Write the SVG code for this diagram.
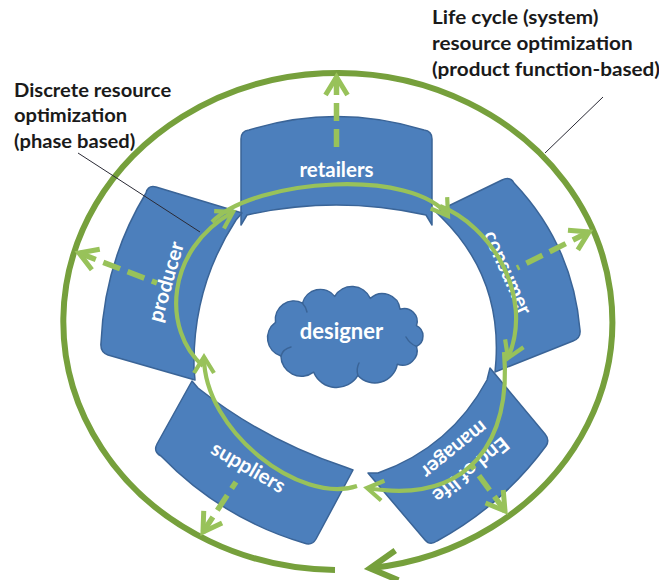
<svg xmlns="http://www.w3.org/2000/svg" width="659" height="580" viewBox="0 0 659 580">
  <defs>
    <style>
      .blk { fill: #4C7FBC; stroke: #3A6497; stroke-width: 1.5; stroke-linejoin: round; }
      .lbl { font-family: Lato, "Open Sans", "Liberation Sans", sans-serif; font-weight: 700; font-size: 20.5px; fill: #FFFFFF; text-anchor: middle; }
      .big { font-size: 22px; }
      .note { font-family: Lato, "Open Sans", "Liberation Sans", sans-serif; font-weight: 700; font-size: 18.5px; fill: #1A1A1A; }
      .flow { fill: none; stroke: #98C25A; stroke-width: 4.2; marker-end: url(#ah-flow); }
      .out { fill: none; stroke: #98C25A; stroke-width: 5.5; stroke-dasharray: 18 8; marker-start: url(#ah-out); }
      .ring { fill: none; stroke: #76A03C; stroke-width: 6; marker-end: url(#ah-ring); }
      .lead { fill: none; stroke: #2A2A35; stroke-width: 1; }
      .cloud-line { fill: none; stroke: #3A6497; stroke-width: 1.5; stroke-linecap: round; }
    </style>
    <marker id="ah-flow" markerUnits="userSpaceOnUse" orient="auto" viewBox="-30 -30 60 60" markerWidth="60" markerHeight="60" refX="0" refY="0" overflow="visible">
      <path d="M-16,-10 L0,0 L-16,10" fill="none" stroke="#98C25A" stroke-width="4.2"/>
    </marker>
    <marker id="ah-out" markerUnits="userSpaceOnUse" orient="auto-start-reverse" viewBox="-30 -30 60 60" markerWidth="60" markerHeight="60" refX="0" refY="0" overflow="visible">
      <path d="M-18,-11 L0,0 L-18,11" fill="none" stroke="#98C25A" stroke-width="5"/>
    </marker>
    <marker id="ah-ring" markerUnits="userSpaceOnUse" orient="auto" viewBox="-40 -40 80 80" markerWidth="80" markerHeight="80" refX="0" refY="0" overflow="visible">
      <path d="M-27,-15 L0,0 L-27,15" fill="none" stroke="#76A03C" stroke-width="6"/>
    </marker>
  </defs>

  <rect width="659" height="580" fill="#FFFFFF"/>

  <!-- life-cycle phases -->
  <g id="retailers">
    <path class="blk" d="M241,225 L241,139 Q241,131 249,130 Q336,103 424,130 Q432,131 432,139 L432,225 L426,215 Q336,195 247,215 Z"/>
    <text class="lbl" x="336.5" y="177">retailers</text>
  </g>
  <g id="consumer">
    <path class="blk" d="M436,212 L502,180 Q510,176 514,183 Q572.6,244.6 580,330 Q581,338 573,341 L495,372 L496,360 Q500.8,276.1 442,218 Z"/>
    <text class="lbl" transform="translate(507,273) rotate(66)" y="6">consumer</text>
  </g>
  <g id="end-of-life-manager">
    <path class="blk" d="M368,473 L425,540 Q430,546 437,541 Q502,505.6 546,446 Q550,440 545,434 L490,368 L487,380 Q450.6,447.4 378,473 Z"/>
    <g transform="translate(462,459) rotate(141)">
      <text class="lbl" y="-7">End of life</text>
      <text class="lbl" y="19">manager</text>
    </g>
  </g>
  <g id="suppliers">
    <path class="blk" d="M192,381 L157,444 Q153,452 161,456 Q221.2,518.4 304,543 Q312,546 316,539 L353,470 L345,467 Q263.9,440.1 198,388 Z"/>
    <text class="lbl" transform="translate(248,468) rotate(30)" y="6">suppliers</text>
  </g>
  <g id="producer">
    <path class="blk" d="M242,213 L156,187 Q148,185 146,193 Q104.3,261.8 101,343 Q100,352 108,355 L195,380 L194,368 Q192.5,286.9 236,220 Z"/>
    <text class="lbl" transform="translate(167,282) rotate(-74)" y="6">producer</text>
  </g>

  <!-- designer at the centre -->
  <g id="designer">
    <path class="blk" d="M275.5,322.3 A18.5,18.5 0 0 1 302.5,303.2 A18.4,18.4 0 0 1 334.7,296.4 A20,20 0 0 1 370.3,298.4 A17.7,17.7 0 0 1 400,309.2 A13,13 0 0 1 416.5,325.6 A11.6,11.6 0 0 1 416.5,346.4 A14.7,14.7 0 0 1 397.3,364.3 A22.9,22.9 0 0 1 357.9,375.4 A24.8,24.8 0 0 1 313.7,372.2 A20.5,20.5 0 0 1 280.9,356 A19.1,19.1 0 0 1 275.5,322.3 Z"/>
    <path class="cloud-line" d="M280.9,356 Q283,349 291,347"/>
    <path class="cloud-line" d="M416.5,346.4 Q410,344 406,337"/>
    <path class="cloud-line" d="M357.9,375.4 Q356,369 359,363"/>
    <path class="cloud-line" d="M302.5,303.2 Q306,307 307,312"/>
    <text class="lbl big" x="341.5" y="338.5">designer</text>
  </g>

  <!-- connectors -->
  <g id="connectors">
    <!-- outer life-cycle loop -->
    <path class="ring" d="M335,570 A274.5,248.5 0 1 1 370,568.3"/>

    <!-- phase-to-phase flow -->
    <path class="flow" d="M203,366 C162,330 165,250 233,212"/>
    <path class="flow" d="M212,222 C255,178 415,168 448,216"/>
    <path class="flow" d="M440,206 C490,225 535,295 508,358"/>
    <path class="flow" d="M504,352 C512,440 470,505 367,488"/>
    <path class="flow" d="M357,486 C300,505 204,431 204,357"/>

    <!-- outflows to the loop (drawn tip first) -->
    <path class="out" d="M336.5,77 L336.5,152"/>
    <path class="out" d="M589,232 L517,268"/>
    <path class="out" d="M79,253 L157,283"/>
    <path class="out" d="M203,532 L236,482"/>
    <path class="out" d="M505,511 L472,466"/>

    <!-- annotation leaders -->
    <path class="lead" d="M78,153 L200,232"/>
    <path class="lead" d="M603,97 L545,153"/>
  </g>

  <!-- annotations, set slightly wide -->
  <g id="note-discrete" transform="translate(14 0) scale(1.09 1) translate(-14 0)">
    <text class="note" x="14" y="97">Discrete resource</text>
    <text class="note" x="14" y="122.5">optimization</text>
    <text class="note" x="14" y="148">(phase based)</text>
  </g>
  <g id="note-lifecycle" transform="translate(432 0) scale(1.12 1) translate(-432 0)">
    <text class="note" x="432" y="24">Life cycle (system)</text>
    <text class="note" x="432" y="50">resource optimization</text>
    <text class="note" x="432" y="76">(product function-based)</text>
  </g>
</svg>
